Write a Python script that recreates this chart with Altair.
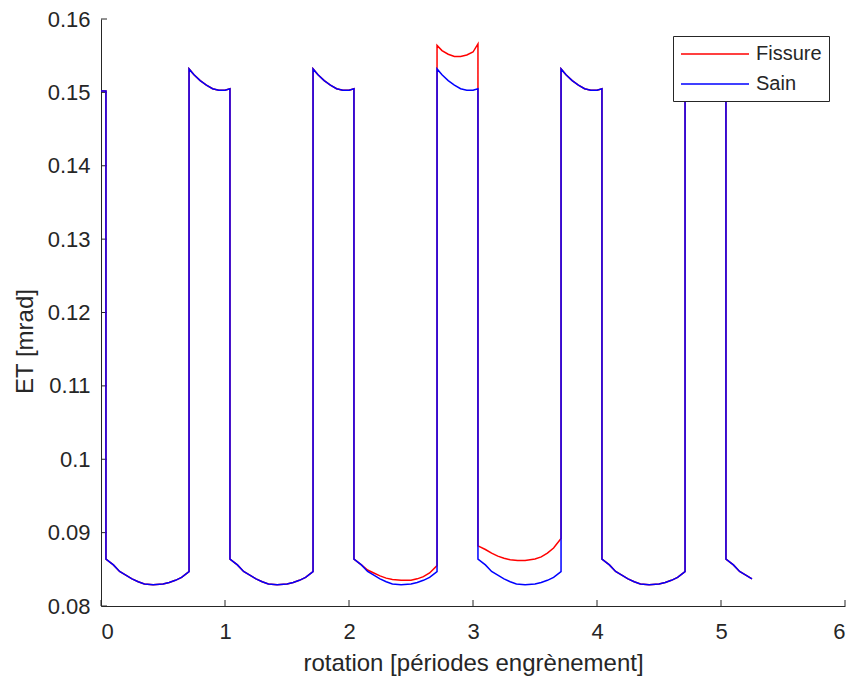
import altair as alt
import pandas as pd

# ---- data ----
SAIN_X = [
    0.00, 0.04,
    0.04, 0.10, 0.15, 0.20, 0.25, 0.30, 0.35, 0.42, 0.50, 0.55, 0.60, 0.65, 0.71,
    0.71, 0.75, 0.80, 0.85, 0.90, 0.95, 1.00, 1.04,
    1.04, 1.10, 1.15, 1.20, 1.25, 1.30, 1.35, 1.42, 1.50, 1.55, 1.60, 1.65, 1.71,
    1.71, 1.75, 1.80, 1.85, 1.90, 1.95, 2.00, 2.04,
    2.04, 2.10, 2.15, 2.20, 2.25, 2.30, 2.35, 2.42, 2.50, 2.55, 2.60, 2.65, 2.71,
    2.71, 2.75, 2.80, 2.85, 2.90, 2.95, 3.00, 3.04,
    3.04, 3.10, 3.15, 3.20, 3.25, 3.30, 3.35, 3.42, 3.50, 3.55, 3.60, 3.65, 3.71,
    3.71, 3.75, 3.80, 3.85, 3.90, 3.95, 4.00, 4.04,
    4.04, 4.10, 4.15, 4.20, 4.25, 4.30, 4.35, 4.42, 4.50, 4.55, 4.60, 4.65, 4.71,
    4.71, 4.75, 4.80, 4.85, 4.90, 4.95, 5.00, 5.04,
    5.04, 5.10, 5.15, 5.20, 5.25,
]
SAIN_Y = [
    0.1502, 0.1502,
    0.0864, 0.0856, 0.0847, 0.0842, 0.0837, 0.0833, 0.0830, 0.0829, 0.0830, 0.0832, 0.0835, 0.0839, 0.0847,
    0.1532, 0.1524, 0.1516, 0.1510, 0.1505, 0.1503, 0.1503, 0.1505,
    0.0864, 0.0856, 0.0847, 0.0842, 0.0837, 0.0833, 0.0830, 0.0829, 0.0830, 0.0832, 0.0835, 0.0839, 0.0847,
    0.1532, 0.1524, 0.1516, 0.1510, 0.1505, 0.1503, 0.1503, 0.1505,
    0.0864, 0.0856, 0.0847, 0.0842, 0.0837, 0.0833, 0.0830, 0.0829, 0.0830, 0.0832, 0.0835, 0.0839, 0.0847,
    0.1532, 0.1524, 0.1516, 0.1510, 0.1505, 0.1503, 0.1503, 0.1505,
    0.0864, 0.0856, 0.0847, 0.0842, 0.0837, 0.0833, 0.0830, 0.0829, 0.0830, 0.0832, 0.0835, 0.0839, 0.0847,
    0.1532, 0.1524, 0.1516, 0.1510, 0.1505, 0.1503, 0.1503, 0.1505,
    0.0864, 0.0856, 0.0847, 0.0842, 0.0837, 0.0833, 0.0830, 0.0829, 0.0830, 0.0832, 0.0835, 0.0839, 0.0847,
    0.1532, 0.1524, 0.1516, 0.1510, 0.1505, 0.1503, 0.1503, 0.1505,
    0.0864, 0.0856, 0.0847, 0.0842, 0.0837,
]

FISSURE_X = [
    0.00, 0.04,
    0.04, 0.10, 0.15, 0.20, 0.25, 0.30, 0.35, 0.42, 0.50, 0.55, 0.60, 0.65, 0.71,
    0.71, 0.75, 0.80, 0.85, 0.90, 0.95, 1.00, 1.04,
    1.04, 1.10, 1.15, 1.20, 1.25, 1.30, 1.35, 1.42, 1.50, 1.55, 1.60, 1.65, 1.71,
    1.71, 1.75, 1.80, 1.85, 1.90, 1.95, 2.00, 2.04,
    2.04, 2.10, 2.15, 2.20, 2.25, 2.30, 2.35, 2.42, 2.50, 2.55, 2.60, 2.65, 2.71,
    2.71, 2.75, 2.80, 2.85, 2.90, 2.95, 3.00, 3.04,
    3.04, 3.10, 3.15, 3.20, 3.25, 3.30, 3.36, 3.42, 3.50, 3.55, 3.60, 3.65, 3.71,
    3.71, 3.75, 3.80, 3.85, 3.90, 3.95, 4.00, 4.04,
    4.04, 4.10, 4.15, 4.20, 4.25, 4.30, 4.35, 4.42, 4.50, 4.55, 4.60, 4.65, 4.71,
    4.71, 4.75, 4.80, 4.85, 4.90, 4.95, 5.00, 5.04,
    5.04, 5.10, 5.15, 5.20, 5.25,
]
FISSURE_Y = [
    0.1502, 0.1502,
    0.0864, 0.0856, 0.0847, 0.0842, 0.0837, 0.0833, 0.0830, 0.0829, 0.0830, 0.0832, 0.0835, 0.0839, 0.0847,
    0.1532, 0.1524, 0.1516, 0.1510, 0.1505, 0.1503, 0.1503, 0.1505,
    0.0864, 0.0856, 0.0847, 0.0842, 0.0837, 0.0833, 0.0830, 0.0829, 0.0830, 0.0832, 0.0835, 0.0839, 0.0847,
    0.1532, 0.1524, 0.1516, 0.1510, 0.1505, 0.1503, 0.1503, 0.1505,
    0.0864, 0.0856, 0.0849, 0.0845, 0.0841, 0.0838, 0.0836, 0.0835, 0.0835, 0.0837, 0.0840, 0.0845, 0.0855,
    0.1564, 0.1557, 0.1552, 0.1549, 0.1549, 0.1551, 0.1555, 0.1566,
    0.0882, 0.0877, 0.0872, 0.0868, 0.0865, 0.0863, 0.0862, 0.0862, 0.0864, 0.0867, 0.0872, 0.0879, 0.0892,
    0.1532, 0.1524, 0.1516, 0.1510, 0.1505, 0.1503, 0.1503, 0.1505,
    0.0864, 0.0856, 0.0847, 0.0842, 0.0837, 0.0833, 0.0830, 0.0829, 0.0830, 0.0832, 0.0835, 0.0839, 0.0847,
    0.1532, 0.1524, 0.1516, 0.1510, 0.1505, 0.1503, 0.1503, 0.1505,
    0.0864, 0.0856, 0.0847, 0.0842, 0.0837,
]

SERIES = ["Fissure", "Sain"]
COLORS = ["#ff0000", "#0000ff"]
X_TICKS = [0, 1, 2, 3, 4, 5, 6]
Y_TICKS = [0.08, 0.09, 0.10, 0.11, 0.12, 0.13, 0.14, 0.15, 0.16]

X_TITLE = "rotation [périodes engrènement]"
Y_TITLE = "ET [mrad]"

# ---- tables ----
rows = []
for name, xs, ys in [("Fissure", FISSURE_X, FISSURE_Y), ("Sain", SAIN_X, SAIN_Y)]:
    for i, (xv, yv) in enumerate(zip(xs, ys)):
        rows.append({"serie": name, "x": xv, "y": yv, "i": i})
df = pd.DataFrame(rows)
xt = pd.DataFrame({"t": X_TICKS})
yt = pd.DataFrame({"t": Y_TICKS})

FONT = "Liberation Sans"
INK = "#262626"
W, H = 744, 587

xscale = alt.Scale(domain=[0, 6], nice=False, zero=False)
yscale = alt.Scale(domain=[0.08, 0.16], nice=False, zero=False)

lines = alt.Chart(df).mark_line(strokeWidth=1.5, clip=True).encode(
    x=alt.X("x:Q", scale=xscale,
            axis=alt.Axis(title=X_TITLE, values=X_TICKS, format="d", grid=False,
                          tickSize=0, labelPadding=15,
                          titleY=57, titleBaseline="middle",
                          domainColor=INK, labelColor=INK, titleColor=INK,
                          labelFontSize=22, titleFontSize=24, labelFont=FONT,
                          titleFont=FONT, titleFontWeight="normal")),
    y=alt.Y("y:Q", scale=yscale,
            axis=alt.Axis(title=Y_TITLE, values=Y_TICKS, format=".2~f", grid=False,
                          tickSize=0, labelPadding=11,
                          titleX=-76, titleY=322, titleBaseline="middle",
                          domainColor=INK, labelColor=INK, titleColor=INK,
                          labelFontSize=22, titleFontSize=24, labelFont=FONT,
                          titleFont=FONT, titleFontWeight="normal")),
    color=alt.Color("serie:N",
                    scale=alt.Scale(domain=SERIES, range=COLORS),
                    legend=alt.Legend(
                        title=None, orient="none", legendX=572, legendY=17,
                        symbolType="M-1,0H5.8", symbolSize=400,
                        symbolStrokeWidth=1.5, labelOffset=54,
                        labelFont=FONT, labelFontSize=20, labelColor=INK,
                        strokeColor=INK, fillColor="white", padding=7,
                        rowPadding=9, cornerRadius=0)),
    order=alt.Order("i:Q"),
)

xticks = alt.Chart(xt).mark_rule(color=INK, strokeWidth=1).encode(
    x=alt.X("t:Q", scale=xscale), y=alt.value(H), y2=alt.value(H - 6))
yticks = alt.Chart(yt).mark_rule(color=INK, strokeWidth=1).encode(
    y=alt.Y("t:Q", scale=yscale), x=alt.value(0), x2=alt.value(6))

chart = alt.layer(xticks, yticks, lines).properties(
    width=W, height=H,
    autosize=alt.AutoSizeParams(type="none"),
    padding={"left": 93, "top": 11, "right": 2, "bottom": 72},
    background="white",
).configure_view(stroke=None)

chart.save("out.html", embed_options={"renderer": "svg", "actions": False})
